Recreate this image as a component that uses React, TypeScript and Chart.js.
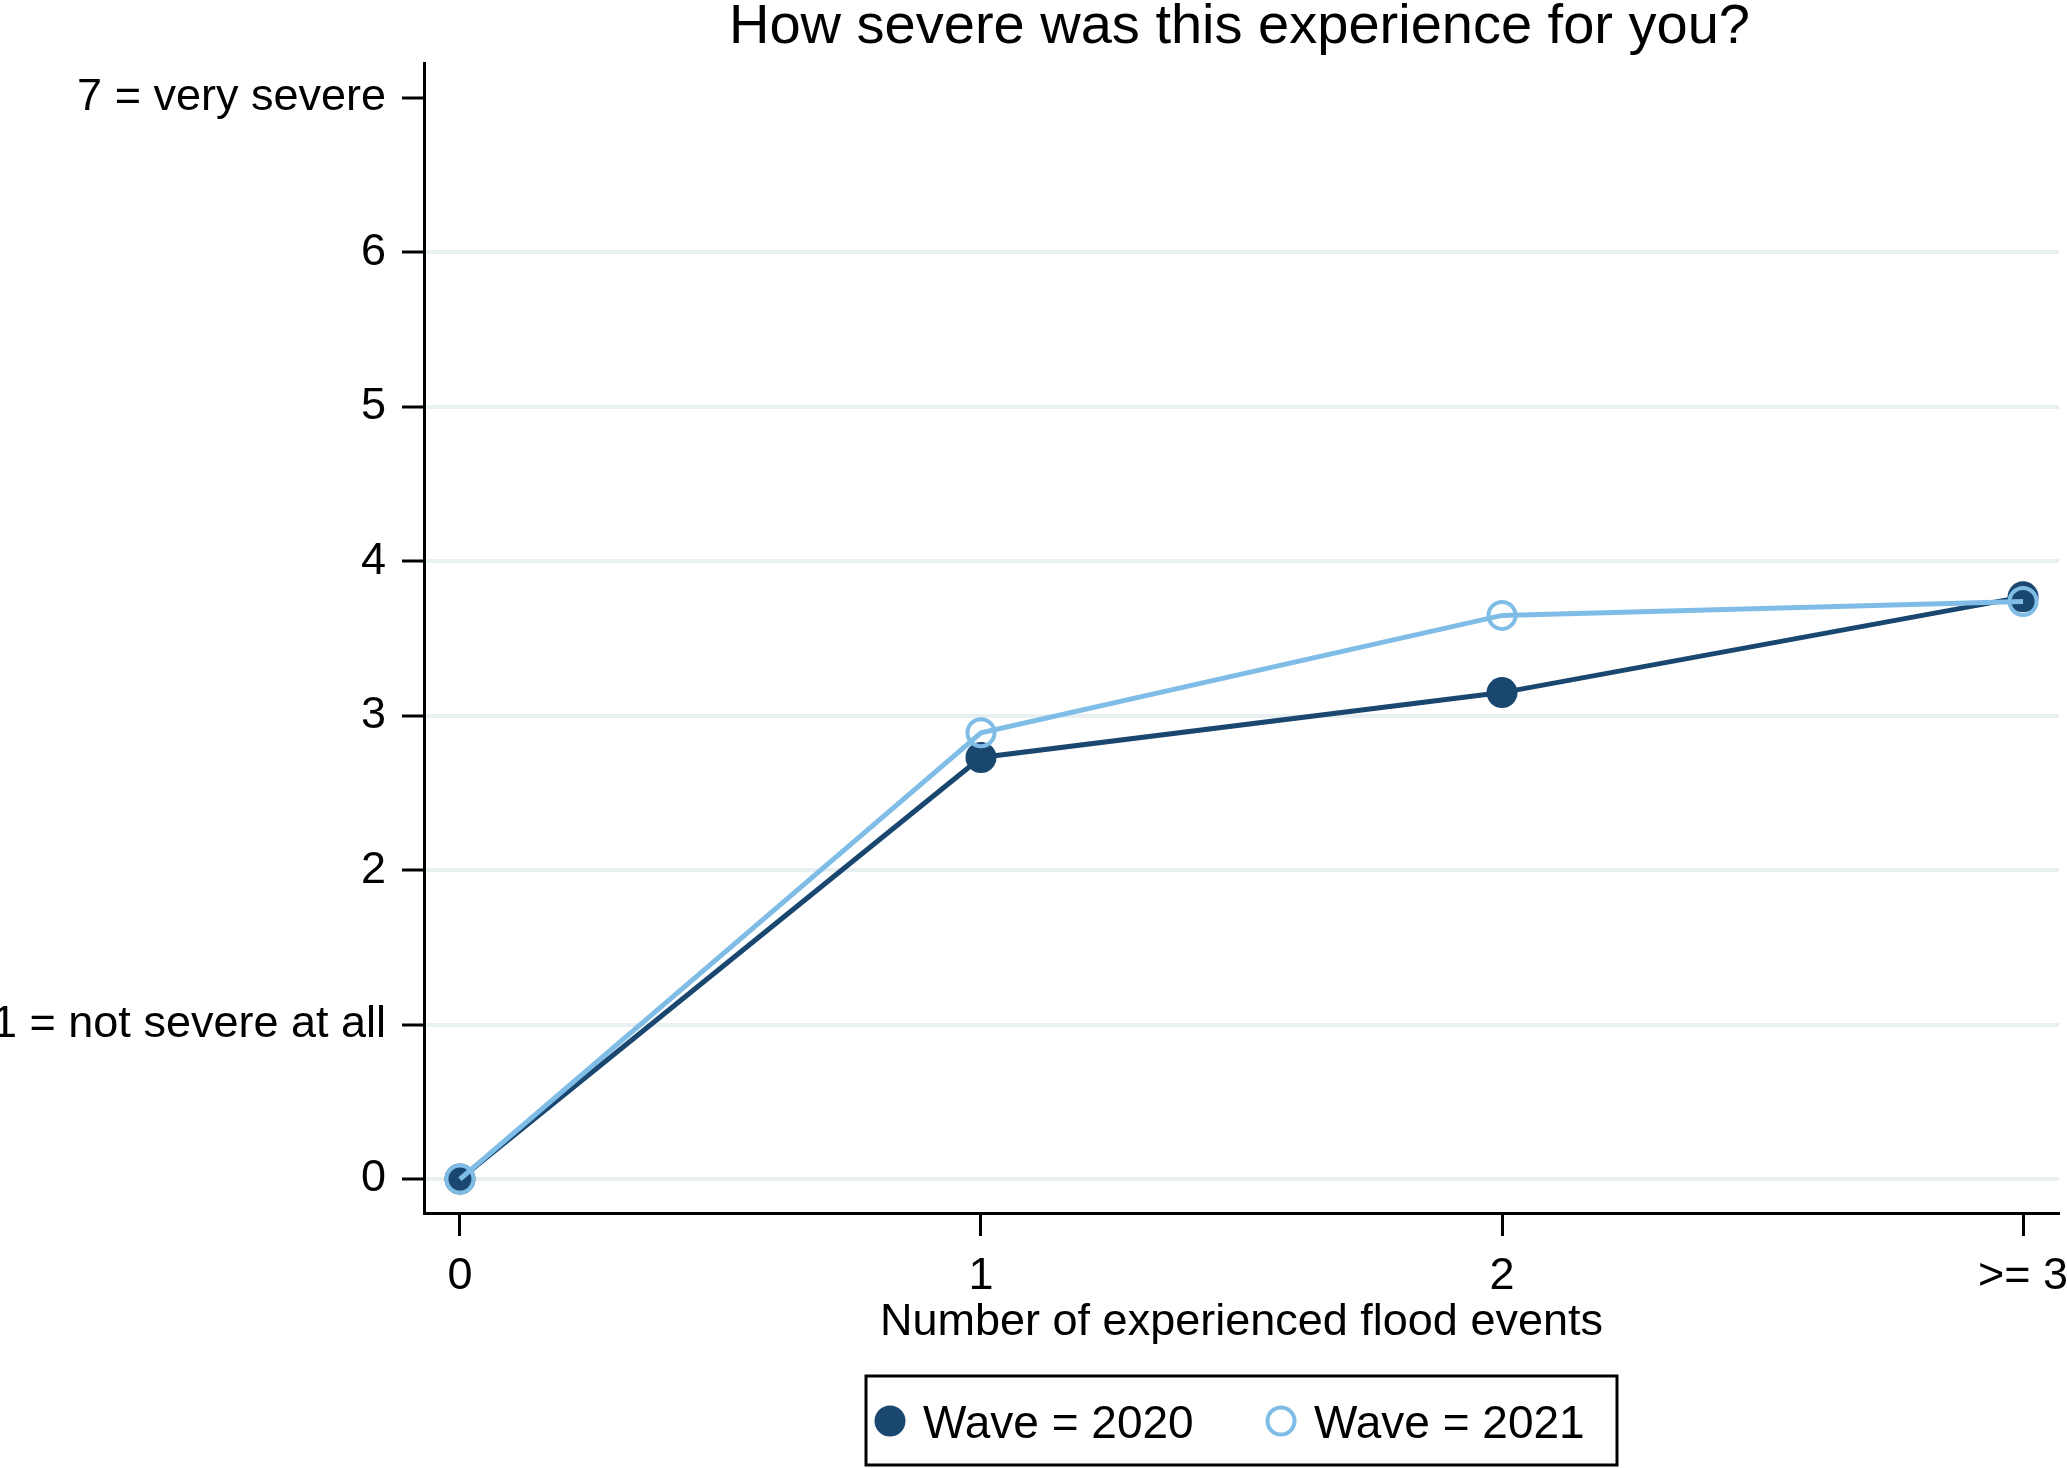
import React, { useEffect, useRef } from 'react';
import { Chart, registerables } from 'chart.js';

Chart.register(...registerables);

// ---- data ----
const categories = ['0', '1', '2', '>= 3'];
const xPositions = [0, 1, 2, 3];
const wave2020 = [0, 2.73, 3.15, 3.77];
const wave2021 = [0, 2.89, 3.65, 3.74];
const yTickValues = [0, 1, 2, 3, 4, 5, 6, 7];
const yTickLabels = ['0', '1 = not severe at all', '2', '3', '4', '5', '6', '7 = very severe'];
const seriesNames = ['Wave = 2020', 'Wave = 2021'];
const titleText = 'How severe was this experience for you?';
const xTitleText = 'Number of experienced flood events';

const NAVY = '#1a476f';
const LIGHT = '#7fbde6';
const GRID = '#e8f0f2';
const FONT = "'Liberation Sans', Arial, Helvetica, sans-serif";

const decorPlugin = {
  id: 'decor',
  afterDraw(chart: any) {
    const ctx = chart.ctx;
    const area = chart.chartArea;
    const cx = (area.left + area.right) / 2;
    ctx.save();
    ctx.fillStyle = '#000';
    ctx.textBaseline = 'alphabetic';
    ctx.textAlign = 'center';
    // title
    ctx.font = `56px ${FONT}`;
    ctx.fillText(titleText, cx - 2, 43);
    // x axis title
    ctx.font = `45px ${FONT}`;
    ctx.fillText(xTitleText, cx, 1335);
    // legend
    ctx.lineWidth = 3;
    ctx.strokeStyle = '#000';
    ctx.strokeRect(866, 1376, 751, 89);
    const ds = chart.data.datasets;
    const cy = 1421;
    ctx.beginPath();
    ctx.arc(890, cy, 15.5, 0, Math.PI * 2);
    ctx.fillStyle = ds[0].pointBackgroundColor;
    ctx.fill();
    ctx.beginPath();
    ctx.arc(1281, cy, 13.5, 0, Math.PI * 2);
    ctx.lineWidth = 4;
    ctx.strokeStyle = ds[1].pointBorderColor;
    ctx.stroke();
    ctx.fillStyle = '#000';
    ctx.textAlign = 'left';
    ctx.font = `46px ${FONT}`;
    ctx.fillText(ds[0].label, 923, 1438);
    ctx.fillText(ds[1].label, 1314, 1438);
    ctx.restore();
  },
};

export default function App() {
  const ref = useRef<HTMLCanvasElement | null>(null);
  useEffect(() => {
    if (!ref.current) return;
    Chart.defaults.color = '#000';
    Chart.defaults.font.family = FONT;
    const chart = new Chart(ref.current, {
      type: 'line',
      data: {
        datasets: [
          {
            label: seriesNames[0],
            data: xPositions.map((x, i) => ({ x, y: wave2020[i] })),
            borderColor: NAVY,
            backgroundColor: NAVY,
            borderWidth: 5,
            pointRadius: 15.5,
            pointBorderWidth: 0,
            pointBackgroundColor: NAVY,
            pointBorderColor: NAVY,
            tension: 0,
            order: 1,
          },
          {
            label: seriesNames[1],
            data: xPositions.map((x, i) => ({ x, y: wave2021[i] })),
            borderColor: LIGHT,
            backgroundColor: LIGHT,
            borderWidth: 5,
            pointRadius: 13.5,
            pointBorderWidth: 4,
            pointBackgroundColor: 'rgba(255,255,255,0)',
            pointBorderColor: LIGHT,
            tension: 0,
            order: 0,
          },
        ],
      },
      options: {
        animation: false,
        responsive: false,
        devicePixelRatio: 1,
        events: [],
        layout: { autoPadding: false, padding: { left: 0, top: 63, right: 8, bottom: 0 } },
        plugins: {
          legend: { display: false },
          title: { display: false },
          tooltip: { enabled: false },
        },
        scales: {
          x: {
            type: 'linear',
            min: -0.069,
            max: 3.069,
            afterBuildTicks: (scale: any) => {
              scale.ticks = xPositions.map((v) => ({ value: v }));
            },
            afterFit: (scale: any) => {
              scale.height = 255;
              scale.paddingLeft = 0;
              scale.paddingRight = 0;
            },
            ticks: {
              autoSkip: false,
              maxRotation: 0,
              padding: 14,
              font: { size: 45, family: FONT },
              color: '#000',
              callback: (v: any) => {
                const i = xPositions.indexOf(Number(v));
                return i >= 0 ? categories[i] : '';
              },
            },
            grid: {
              display: true,
              drawOnChartArea: false,
              drawTicks: true,
              tickLength: 23,
              tickColor: '#000',
              tickWidth: 3,
            },
            border: { display: true, color: '#000', width: 3 },
          },
          y: {
            type: 'linear',
            min: -0.22,
            max: 7.227,
            afterBuildTicks: (scale: any) => {
              scale.ticks = yTickValues.map((v) => ({ value: v }));
            },
            afterFit: (scale: any) => {
              scale.width = 424;
            },
            ticks: {
              autoSkip: false,
              padding: 16,
              font: { size: 45, family: FONT },
              color: '#000',
              callback: (v: any) => {
                const i = yTickValues.indexOf(Number(v));
                return i >= 0 ? yTickLabels[i] : '';
              },
            },
            grid: {
              display: true,
              drawOnChartArea: true,
              drawTicks: true,
              tickLength: 22,
              tickColor: '#000',
              tickWidth: 3,
              lineWidth: 4,
              color: (c: any) => (c.tick && c.tick.value === 7 ? 'rgba(0,0,0,0)' : GRID),
            },
            border: { display: true, color: '#000', width: 3 },
          },
        },
      },
      plugins: [decorPlugin],
    });
    return () => chart.destroy();
  }, []);
  return (
    <div style={{ position: 'fixed', left: 0, top: 0, width: 2067, height: 1468, background: '#fff' }}>
      <canvas ref={ref} width={2067} height={1468} style={{ width: 2067, height: 1468, display: 'block' }} />
    </div>
  );
}
